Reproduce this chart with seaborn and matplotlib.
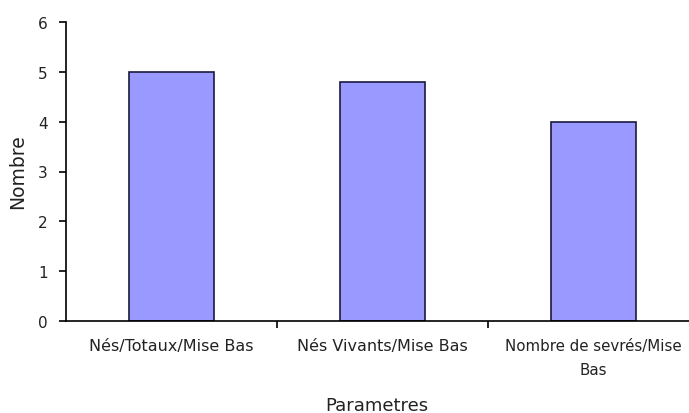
import pandas as pd
import seaborn as sns
import matplotlib.pyplot as plt
from matplotlib.ticker import FixedLocator

categories = ["Nés/Totaux/Mise Bas", "Nés Vivants/Mise Bas", "Nombre de sevrés/Mise\nBas"]
values = [5.0, 4.8, 4.0]

df = pd.DataFrame({"param": categories, "nombre": values})

sns.set_style("white")
plt.rcParams["font.family"] = ["DejaVu Sans"]

fig = plt.figure(figsize=(6.89, 4.14), dpi=100)
ax = fig.add_axes([66 / 689, 1 - 322 / 414, (699 - 66) / 689, (322 - 23) / 414])

sns.barplot(data=df, x="param", y="nombre", color="#9999FF", width=0.4,
            edgecolor="#1a1a40", linewidth=1.2, saturation=1, ax=ax)

ax.set_xlim(-0.5, 2.5)
ax.set_ylim(0, 6)
ax.set_yticks(range(0, 7))
ax.tick_params(axis="y", left=True, labelsize=11, length=5, width=1.2,
               direction="out", color="black", labelcolor="#222222", pad=8)
ax.tick_params(axis="x", which="major", labelsize=11.5, length=0, pad=12,
               labelcolor="#222222")
ax.xaxis.set_minor_locator(FixedLocator([0.5, 1.5]))
ax.tick_params(axis="x", which="minor", bottom=True, length=5, width=1.2,
               direction="out", color="black")
xlabels = ax.get_xticklabels()
xlabels[-1].set_fontsize(10.8)
xlabels[-1].set_linespacing(1.75)

for side in ["top", "right"]:
    ax.spines[side].set_visible(False)
for side in ["left", "bottom"]:
    ax.spines[side].set_color("black")
    ax.spines[side].set_linewidth(1.2)

ax.set_xlabel("")
ax.set_ylabel("")
fig.text(377 / 689, 1 - 406 / 414, "Parametres", fontsize=13,
         color="#222222", ha="center", va="center")
fig.text(18 / 689, 1 - 172 / 414, "Nombre", fontsize=13.5, color="#222222",
         ha="center", va="center", rotation=90)

fig.savefig("out.png", dpi=100)
